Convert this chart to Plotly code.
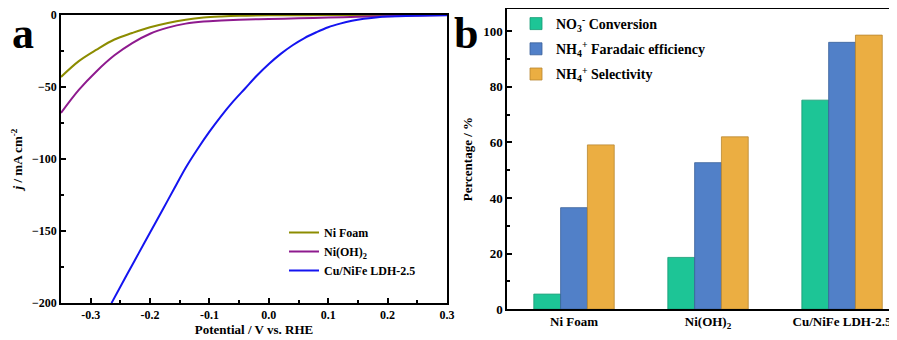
import plotly.graph_objects as go

# ---- Panel a: LSV curves ----
ni_foam_v = [-0.35, -0.32, -0.29, -0.26, -0.23, -0.20, -0.17, -0.14, -0.11, -0.08, -0.05, 0.0, 0.1, 0.2, 0.3]
ni_foam_j = [-43, -32, -24, -17, -12.5, -8.5, -5.5, -3.3, -1.8, -1.0, -0.5, -0.2, -0.1, 0, 0]

nioh_v = [-0.35, -0.32, -0.29, -0.26, -0.23, -0.20, -0.17, -0.14, -0.11, -0.08, -0.05, 0.0, 0.05, 0.10, 0.15, 0.20, 0.25, 0.30]
nioh_j = [-68, -52, -39, -28, -19.5, -13, -8.8, -6, -4.5, -3.8, -3.3, -2.8, -2.3, -1.8, -1.3, -0.8, -0.4, -0.1]

cu_v = [-0.265, -0.24, -0.22, -0.20, -0.18, -0.16, -0.14, -0.12, -0.10, -0.08, -0.06, -0.04, -0.02, 0.0,
        0.02, 0.04, 0.06, 0.08, 0.10, 0.12, 0.14, 0.16, 0.18, 0.20, 0.25, 0.30]
cu_j = [-200, -181, -166, -151, -136, -121, -106, -93, -81, -70, -60, -51, -42, -34,
        -27, -21, -16, -12, -8.5, -6, -4, -2.6, -1.7, -1.1, -0.5, -0.2]

# ---- Panel b: bar chart ----
categories = ["Ni Foam", "Ni(OH)<sub>2</sub>", "Cu/NiFe LDH-2.5"]
no3_conversion = [5.4, 18.6, 75.2]
nh4_fe = [36.5, 52.7, 96.0]
nh4_selectivity = [59.1, 62.0, 98.6]

FONT = "Liberation Serif"
OFF = 8          # page body margin
W, H = 897 - OFF, 340 - OFF


def px(x):
    return (x - OFF) / W


def py(y):
    return 1 - (y - OFF) / H


fig = go.Figure()

line_specs = [
    ("Ni Foam", ni_foam_v, ni_foam_j, "#8c8c00"),
    ("Ni(OH)<sub>2</sub>", nioh_v, nioh_j, "#8e1a8e"),
    ("Cu/NiFe LDH-2.5", cu_v, cu_j, "#1414f0"),
]
for name, xv, yv, col in line_specs:
    fig.add_trace(go.Scatter(x=xv, y=yv, mode="lines", name=name, line=dict(color=col, width=2, shape="spline"),
                             xaxis="x", yaxis="y", legend="legend"))

bar_specs = [
    ("NO<sub>3</sub><sup>-</sup> Conversion", no3_conversion, "#1dc596", "#159a74"),
    ("NH<sub>4</sub><sup>+</sup> Faradaic efficiency", nh4_fe, "#5180c8", "#3a5f99"),
    ("NH<sub>4</sub><sup>+</sup> Selectivity", nh4_selectivity, "#ebae42", "#b88630"),
]
for i, (name, vals, col, edge) in enumerate(bar_specs):
    fig.add_trace(go.Bar(x=list(range(len(categories))), y=vals, name=name, legendgroup=f"g{i}",
                         marker=dict(color=col, line=dict(color=edge, width=0.8)),
                         xaxis="x2", yaxis="y2", legend="legend2"))

tickfont = dict(family=FONT, size=12, color="black", weight="bold")
titlefont = dict(family=FONT, size=13, color="black", weight="bold")

fig.update_layout(
    width=W, height=H,
    margin=dict(l=0, r=0, t=0, b=0),
    paper_bgcolor="white", plot_bgcolor="white",
    barmode="group", bargap=0.4, bargroupgap=0,
    font=dict(family=FONT, color="black"),
    xaxis=dict(domain=[px(61), px(447)], range=[-0.35, 0.3], anchor="y",
               tickvals=[-0.3, -0.2, -0.1, 0.0, 0.1, 0.2, 0.3],
               ticktext=["-0.3", "-0.2", "-0.1", "0.0", "0.1", "0.2", "0.3"],
               ticks="inside", ticklen=5, tickwidth=1.5, tickcolor="black",
               minor=dict(tickvals=[-0.25, -0.15, -0.05, 0.05, 0.15, 0.25], ticks="inside", ticklen=3, tickcolor="black"),
               showline=True, linecolor="black", linewidth=1.5, mirror=True,
               showgrid=False, zeroline=False, tickfont=tickfont,
               title=dict(text="Potential / V vs. RHE", font=titlefont, standoff=0), automargin=False),
    yaxis=dict(domain=[py(303), py(14)], range=[-200, 0], anchor="x",
               tickvals=[0, -50, -100, -150, -200],
               ticks="inside", ticklen=5, tickwidth=1.5, tickcolor="black",
               minor=dict(tickvals=[-25, -75, -125, -175], ticks="inside", ticklen=3, tickcolor="black"),
               showline=True, linecolor="black", linewidth=1.5, mirror=True,
               showgrid=False, zeroline=False, tickfont=tickfont,
               title=dict(text="<i>j</i> / mA cm<sup>-2</sup>", font=titlefont, standoff=6), automargin=False),
    xaxis2=dict(domain=[px(507), 1.0], range=[-0.5, 2.41], anchor="y2",
                tickvals=[0, 1, 2], ticktext=categories, ticks="",
                showline=True, linecolor="black", linewidth=1.5, mirror=True,
                showgrid=False, zeroline=False, tickfont=dict(family=FONT, size=13, color="black", weight="bold"),
                automargin=False),
    yaxis2=dict(domain=[py(309), py(8)], range=[0, 108], anchor="x2",
                tickvals=[0, 20, 40, 60, 80, 100],
                ticks="inside", ticklen=5, tickwidth=1.5, tickcolor="black",
                minor=dict(tickvals=[10, 30, 50, 70, 90], ticks="inside", ticklen=3, tickcolor="black"),
                showline=True, linecolor="black", linewidth=1.5,
                showgrid=False, zeroline=False, tickfont=dict(family=FONT, size=13, color="black", weight="bold"),
                title=dict(text="Percentage / %", font=titlefont, standoff=8), automargin=False),
    legend=dict(x=px(284), y=py(218), xanchor="left", yanchor="top",
                bgcolor="rgba(0,0,0,0)", font=dict(family=FONT, size=12, color="black", weight="bold"),
                tracegroupgap=0, itemwidth=30),
    legend2=dict(x=px(516), y=py(7), xanchor="left", yanchor="top",
                 bgcolor="rgba(0,0,0,0)", font=dict(family=FONT, size=14, color="black", weight="bold"),
                 tracegroupgap=4, itemwidth=30),
    annotations=[
        dict(text="a", x=px(23), y=py(33), xref="paper", yref="paper", showarrow=False,
             xanchor="center", yanchor="middle",
             font=dict(family=FONT, size=44, color="black", weight="bold")),
        dict(text="b", x=px(466), y=py(33), xref="paper", yref="paper", showarrow=False,
             xanchor="center", yanchor="middle",
             font=dict(family=FONT, size=44, color="black", weight="bold")),
    ],
)

fig.write_html("out.html")
